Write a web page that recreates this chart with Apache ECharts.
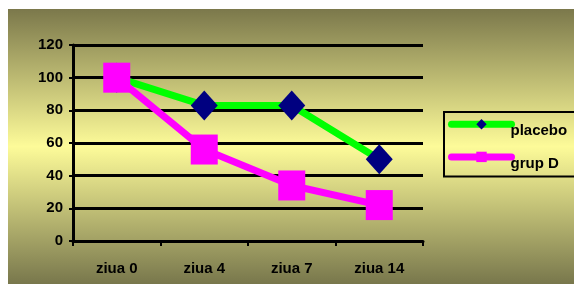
<!DOCTYPE html>
<html>
<head>
<meta charset="utf-8">
<script src="https://cdn.jsdelivr.net/npm/echarts@6/dist/echarts.min.js"></script>
<style>
  html, body { margin: 0; padding: 0; background: #fff; }
  #chart { position: absolute; left: 8px; top: 9px; width: 566px; height: 275px; }
</style>
</head>
<body>
<div id="chart"></div>
<script>
const categories = ["ziua 0", "ziua 4", "ziua 7", "ziua 14"];
const placebo = [100, 83, 83, 50];
const grupD = [100, 56, 34, 22];

const chart = echarts.init(document.getElementById("chart"));

const labelFont = {
  color: "#000",
  fontFamily: "Liberation Sans, Arial, sans-serif",
  fontWeight: "bold",
  fontSize: 15,
};

chart.setOption({
  animation: false,
  backgroundColor: new echarts.graphic.LinearGradient(0, 0, 0, 1, [
    { offset: 0, color: "#7b784b" },
    { offset: 0.5, color: "#fdfb99" },
    { offset: 1, color: "#78774c" },
  ]),
  grid: {
    left: 65,
    top: 36,
    right: 151,
    bottom: 43,
  },
  legend: {
    left: 436,
    top: 103,
    orient: "vertical",
    itemWidth: 60,
    itemHeight: 13,
    itemGap: 13,
    padding: [7, 8, 5, 4],
    borderColor: "#000",
    borderWidth: 2,
    lineStyle: { width: 7, cap: "round" },
    formatter: (name) => "{t|" + name + "}",
    textStyle: {
      ...labelFont,
      rich: { t: { ...labelFont, padding: [14, 0, 0, -6] } },
    },
    data: ["placebo", "grup D"],
  },
  xAxis: {
    type: "category",
    data: categories,
    boundaryGap: true,
    axisLine: { lineStyle: { color: "#000", width: 3 } },
    axisTick: { show: true, length: 5, lineStyle: { color: "#000", width: 2 } },
    axisLabel: { ...labelFont, margin: 20 },
    splitLine: { show: false },
  },
  yAxis: {
    type: "value",
    min: 0,
    max: 120,
    interval: 20,
    axisLine: { show: true, lineStyle: { color: "#000", width: 3 } },
    axisTick: { show: true, length: 4, lineStyle: { color: "#000", width: 2 } },
    axisLabel: { ...labelFont, margin: 10 },
    splitLine: { show: true, lineStyle: { color: "#000", width: 3 } },
  },
  series: [
    {
      name: "placebo",
      type: "line",
      data: placebo,
      symbol: "diamond",
      symbolSize: [27, 30],
      lineStyle: { color: "#00ff00", width: 7 },
      itemStyle: { color: "#000080" },
    },
    {
      name: "grup D",
      type: "line",
      data: grupD,
      symbol: "rect",
      symbolSize: [27, 30],
      lineStyle: { color: "#ff00ff", width: 7 },
      itemStyle: { color: "#ff00ff" },
    },
  ],
});
</script>
</body>
</html>
